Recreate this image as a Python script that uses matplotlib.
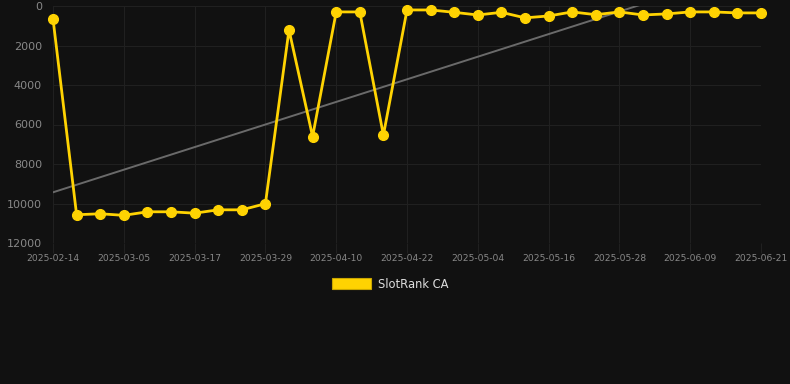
import matplotlib
matplotlib.use("Agg")
import matplotlib.pyplot as plt
import matplotlib.patches as mpatches
import numpy as np

dates = ["2025-02-14", "2025-02-21", "2025-02-28",
         "2025-03-05", "2025-03-09", "2025-03-13", "2025-03-17", "2025-03-21", "2025-03-25",
         "2025-03-29", "2025-04-02", "2025-04-06", "2025-04-10", "2025-04-14", "2025-04-18",
         "2025-04-22", "2025-04-26", "2025-04-30", "2025-05-04", "2025-05-08", "2025-05-12",
         "2025-05-16", "2025-05-20", "2025-05-24", "2025-05-28", "2025-06-01", "2025-06-05",
         "2025-06-09", "2025-06-13", "2025-06-17", "2025-06-21"]
ranks = [650, 10570, 10520, 10600, 10420, 10420, 10490, 10320, 10320, 10010,
         1210, 6610, 300, 300, 6540,
         200, 200, 320, 455, 320, 600, 505, 300, 440, 300, 455, 400, 300, 300, 350, 350]
series_label = "SlotRank CA"
y_ticks = [0, 2000, 4000, 6000, 8000, 10000, 12000]

BG = "#111111"
GOLD = "#FFD302"

fig = plt.figure(figsize=(7.9, 3.84), dpi=100, facecolor=BG)
ax = fig.add_axes([53/790, 1-243/384, (761-53)/790, (243-6)/384])
ax.set_facecolor(BG)

x = np.arange(len(dates))
# trend line (linear regression)
coef = np.polyfit(x, ranks, 1)
ax.plot(x, np.polyval(coef, x), color="#6a6a6a", lw=1.4, zorder=2)

ax.plot(x, ranks, color=GOLD, lw=2.0, marker="o", markersize=7,
        markerfacecolor=GOLD, markeredgecolor=GOLD, zorder=3, clip_on=False)

ax.set_xlim(0, len(dates) - 1)
ax.set_ylim(12000, 0)
ax.set_yticks(y_ticks)
ax.set_yticklabels([str(v) for v in y_ticks])
tick_idx = list(range(0, len(dates), 3))
ax.set_xticks(tick_idx)
ax.set_xticklabels([dates[i] for i in tick_idx])

ax.grid(True, color="#202020", lw=0.8)
for s in ax.spines.values():
    s.set_visible(False)
ax.tick_params(axis="y", colors="#888888", labelsize=8, length=0, pad=8)
ax.tick_params(axis="x", colors="#888888", labelsize=6.6, length=7, width=0.8,
               color="#202020", pad=1)

handle = mpatches.Patch(facecolor=GOLD, edgecolor="#c9a600", lw=0.8)
leg = fig.legend([handle], [series_label], loc="center",
                 bbox_to_anchor=(0.5 - 5/790, 1-284/384),
                 frameon=False, handlelength=3.4, handleheight=1.1, handletextpad=0.6,
                 fontsize=8.3)
for t in leg.get_texts():
    t.set_color("#dddddd")

fig.savefig("out.png", dpi=100, facecolor=BG)
